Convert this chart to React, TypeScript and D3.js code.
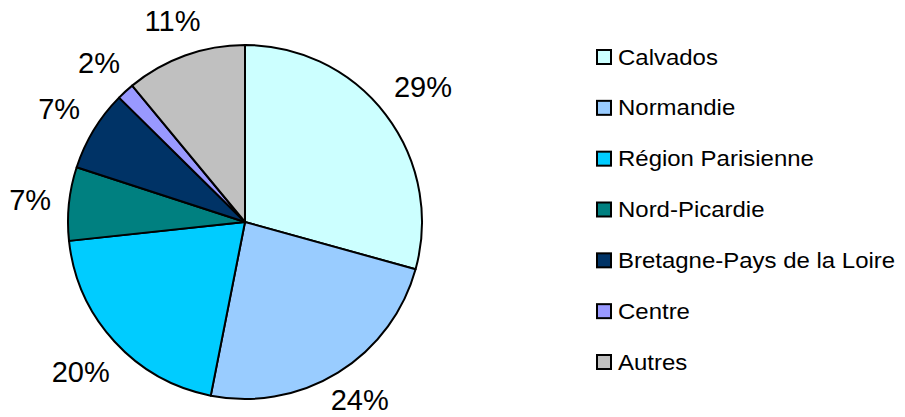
import React from "react";
import * as d3 from "d3";

const categories = ["Calvados", "Normandie", "Région Parisienne", "Nord-Picardie", "Bretagne-Pays de la Loire", "Centre", "Autres"];
const values = [29.3, 23.8, 20.2, 6.7, 7.4, 1.6, 11.0];
const colors = ["#CCFFFF", "#99CCFF", "#00CCFF", "#008080", "#003366", "#9999FF", "#C0C0C0"];

const W = 905, H = 417;
const cx = 245, cy = 222, R = 177;
const FS = 29, GAP = 17;

export default function App() {
  const pie = d3.pie<number>().sort(null).value((d) => d)(values);
  const arc = d3.arc<d3.PieArcDatum<number>>().innerRadius(0).outerRadius(R);
  const total = d3.sum(values);
  const legendY = d3.scalePoint<string>().domain(categories).range([57, 362]);
  return (
    <svg width={W} height={H} style={{ position: "absolute", left: 0, top: 0, fontFamily: "Liberation Sans, Arial, sans-serif" }}>
      <rect width={W} height={H} fill="#fff" />
      <g transform={`translate(${cx},${cy})`}>
        {pie.map((p, i) => (
          <path key={i} d={arc(p) || ""} fill={colors[i]} stroke="#000" strokeWidth={2} strokeLinejoin="round" />
        ))}
        {pie.map((p, i) => {
          const label = `${Math.round((values[i] / total) * 100)}%`;
          const w = FS * (0.556 * (label.length - 1) + 0.889);
          const h = FS * 0.75;
          const a = (p.startAngle + p.endAngle) / 2;
          const ux = Math.sin(a), uy = -Math.cos(a);
          const ext = Math.abs(ux) * w / 2 + Math.abs(uy) * h / 2;
          const d = R + GAP + ext;
          const x = ux * d;
          const y = Math.min(uy * d, H - cy - 17);
          return (
            <text key={i} x={x} y={y} textAnchor="middle" dominantBaseline="central" fontSize={FS} fill="#000">
              {label}
            </text>
          );
        })}
      </g>
      {categories.map((c, i) => {
        const y = legendY(c) as number;
        return (
          <g key={c}>
            <rect x={597} y={y - 7} width={14} height={14} fill={colors[i]} stroke="#000" strokeWidth={2} />
            <text transform={`translate(618,${y}) scale(1.09,1)`} dominantBaseline="central" fontSize={22} fill="#000">{c}</text>
          </g>
        );
      })}
    </svg>
  );
}
